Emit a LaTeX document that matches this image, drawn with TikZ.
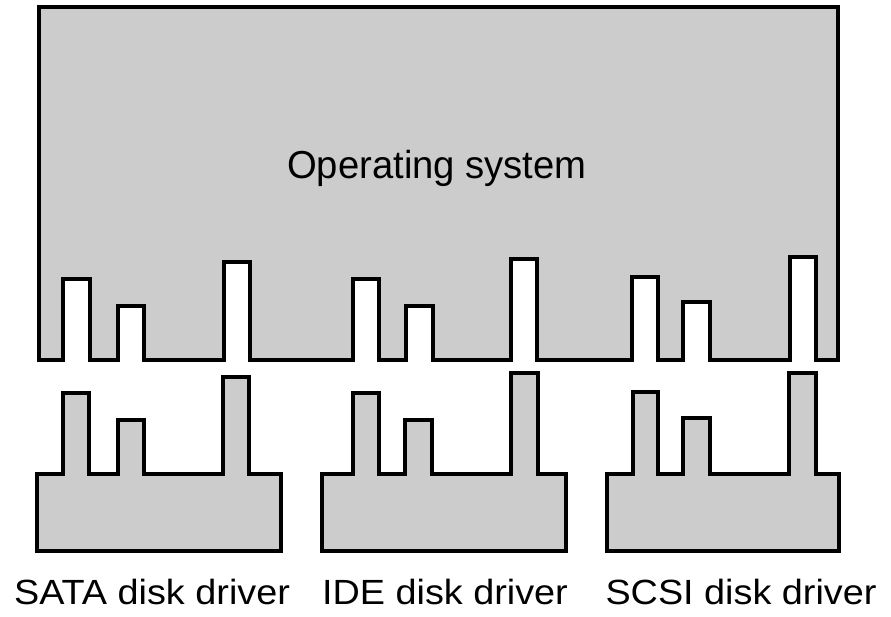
\documentclass[tikz,border=0pt]{standalone}
\usepackage{fontspec}
\setmainfont{Liberation Sans}
\newfontfamily\titlefont[FakeStretch=0.98]{Liberation Sans}
\newfontfamily\labelfont[FakeStretch=1.08]{Liberation Sans}
\definecolor{panel}{RGB}{204,204,204}
\tikzset{
  outline/.style={draw=black, fill=panel, line width=3.4pt, line join=miter},
  title/.style={font=\titlefont\fontsize{39}{44}\selectfont, anchor=base, inner sep=0pt},
  label/.style={font=\labelfont\fontsize{35}{40}\selectfont, anchor=base, inner sep=0pt}
}
\begin{document}
\begin{tikzpicture}[x=1pt, y=-1pt]
\useasboundingbox (0,0) rectangle (891,616);

% operating system block with three groups of open sockets along its lower edge
\draw[outline] (39,7) -- (838,7) -- (838,360)
  -- (816,360) -- (816,257) -- (790,257) -- (790,360)
  -- (710,360) -- (710,302) -- (683,302) -- (683,360)
  -- (658,360) -- (658,277) -- (632,277) -- (632,360)
  -- (537,360) -- (537,259) -- (511,259) -- (511,360)
  -- (433,360) -- (433,306) -- (406,306) -- (406,360)
  -- (379,360) -- (379,279) -- (353,279) -- (353,360)
  -- (250,360) -- (250,262) -- (224,262) -- (224,360)
  -- (144,360) -- (144,306) -- (118,306) -- (118,360)
  -- (90,360) -- (90,279) -- (63,279) -- (63,360)
  -- (39,360) -- cycle;
\node[title] (os) at (437,178) {Operating system};

% SATA driver plug
\draw[outline] (37,551) -- (37,474)
  -- (63,474) -- (63,393) -- (89,393) -- (89,474)
  -- (118,474) -- (118,420) -- (144,420) -- (144,474)
  -- (223,474) -- (223,377) -- (249,377) -- (249,474)
  -- (281,474) -- (281,551) -- cycle;

% IDE driver plug
\draw[outline] (322,551) -- (322,474)
  -- (353,474) -- (353,393) -- (379,393) -- (379,474)
  -- (405,474) -- (405,420) -- (432,420) -- (432,474)
  -- (511,474) -- (511,373) -- (538,373) -- (538,474)
  -- (566,474) -- (566,551) -- cycle;

% SCSI driver plug
\draw[outline] (607,551) -- (607,474)
  -- (633,474) -- (633,392) -- (658,392) -- (658,474)
  -- (683,474) -- (683,418) -- (710,418) -- (710,474)
  -- (789,474) -- (789,373) -- (816,373) -- (816,474)
  -- (839,474) -- (839,551) -- cycle;

\node[label] (sata) at (152,604) {SATA disk driver};
\node[label] (ide)  at (445,604) {IDE disk driver};
\node[label] (scsi) at (741,604) {SCSI disk driver};
\end{tikzpicture}
\end{document}
